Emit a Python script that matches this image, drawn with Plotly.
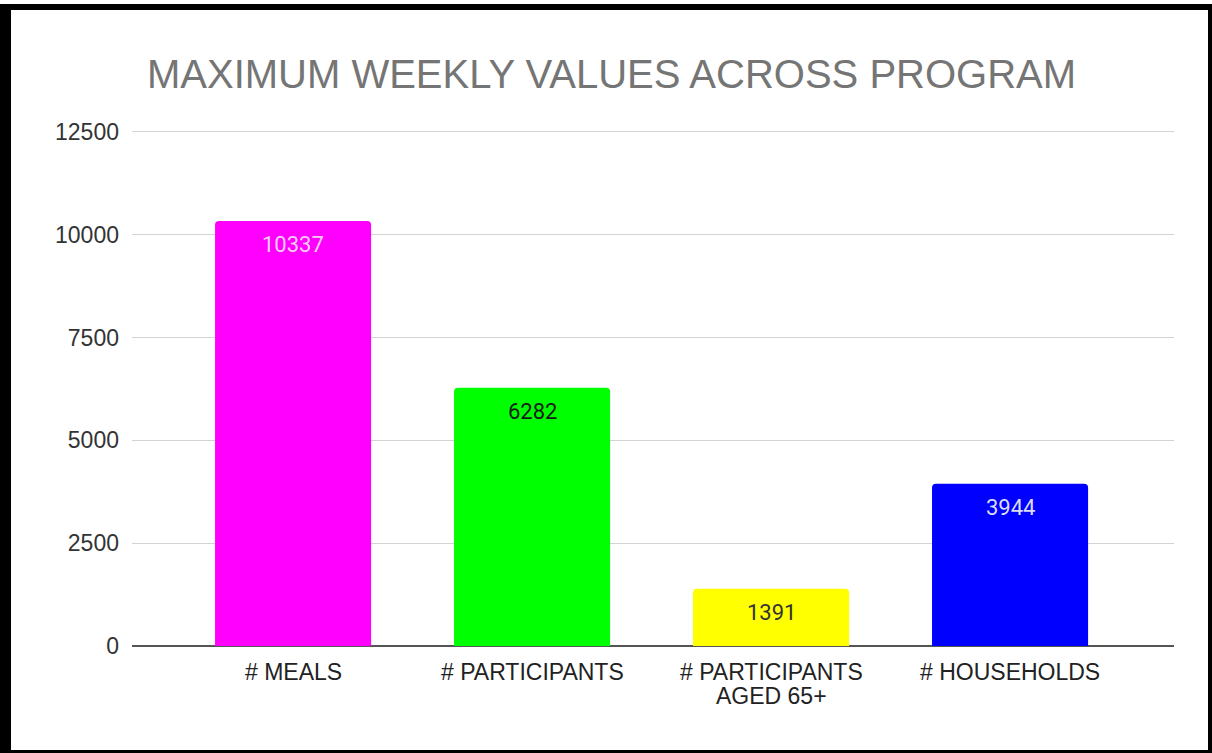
import plotly.graph_objects as go

categories = ["# MEALS", "# PARTICIPANTS", "# PARTICIPANTS<br>AGED 65+", "# HOUSEHOLDS"]
values = [10337, 6282, 1391, 3944]
bar_colors = ["#ff00ff", "#00ff00", "#ffff00", "#0000ff"]
label_colors = ["#f7cdf7", "#1a1a1a", "#333333", "#dcdcf4"]
y_ticks = [0, 2500, 5000, 7500, 10000, 12500]
y_max = 12597

W, H = 1212, 753
ML, MR, MT, MB = 132, 38, 128, 107
PW, PH = W - ML - MR, H - MT - MB
FONT = "Liberation Sans, Arial, sans-serif"

fig = go.Figure(go.Bar(
    x=list(range(len(categories))),
    y=values,
    marker=dict(color=bar_colors, line=dict(width=0)),
    width=0.653,
    hoverinfo="x+y",
))

def px_x(p):
    return (p - ML) / PW

def px_y(p):
    return 1 - (p - MT) / PH

shapes = []
for (x0, y0, x1, y1) in [(0, 4, 11, 753), (0, 4, 1212, 10), (1208, 4, 1212, 753), (0, 750, 1212, 753)]:
    shapes.append(dict(type="rect", xref="paper", yref="paper",
                       x0=px_x(x0), x1=px_x(x1), y0=px_y(y1), y1=px_y(y0),
                       fillcolor="black", line=dict(width=0), layer="above"))

annotations = []
# value labels inside bar tops
for i, v in enumerate(values):
    annotations.append(dict(x=i, y=v, xref="x", yref="y", text=str(v), showarrow=False,
                            yshift=-24, yanchor="middle",
                            font=dict(family="Roboto, " + FONT, size=22, color=label_colors[i])))
# category labels
for i, c in enumerate(categories):
    for j, line in enumerate(c.split("<br>")):
        annotations.append(dict(x=i, y=0, xref="x", yref="y", text=line, showarrow=False,
                                yshift=-26 - 24 * j, yanchor="middle", borderpad=0,
                                font=dict(family=FONT, size=23, color="#222222")))

fig.update_layout(
    width=W, height=H,
    margin=dict(l=ML, r=MR, t=MT, b=MB),
    paper_bgcolor="white", plot_bgcolor="white",
    font=dict(family=FONT, size=23, color="#222222"),
    title=dict(text="MAXIMUM WEEKLY VALUES ACROSS PROGRAM",
               font=dict(size=40, color="#757575"),
               xref="container", yref="container",
               x=147 / W, xanchor="left", y=1 - 74 / H, yanchor="middle"),
    barcornerradius=4,
    showlegend=False,
    shapes=shapes,
    annotations=annotations,
    xaxis=dict(range=[-0.674, 3.686], showticklabels=False,
               showgrid=False, showline=False, ticks="", zeroline=False),
    yaxis=dict(range=[0, y_max], tickmode="array", tickvals=y_ticks,
               ticktext=[str(t) for t in y_ticks],
               showgrid=True, gridcolor="#d3d3d3", gridwidth=1,
               zeroline=True, zerolinecolor="#555555", zerolinewidth=2,
               showline=False, ticks="", ticklabelstandoff=12,
               tickfont=dict(size=23, color="#333333")),
)

fig.write_html("out.html", config={"displayModeBar": False},
               post_script="document.body.style.margin='0';document.body.style.overflow='hidden';")
